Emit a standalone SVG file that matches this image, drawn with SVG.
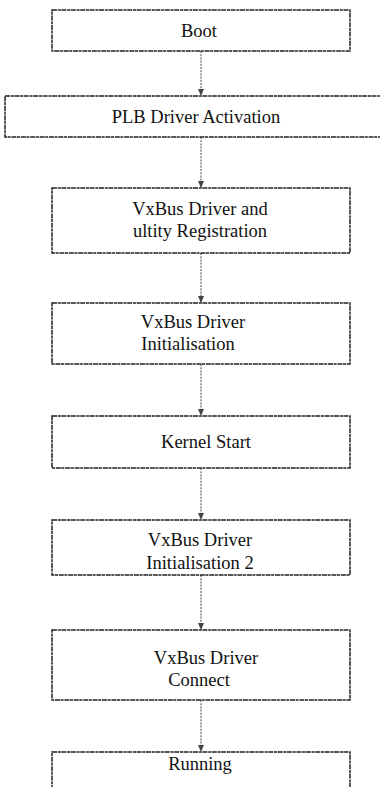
<svg xmlns="http://www.w3.org/2000/svg" width="380" height="787" viewBox="0 0 380 787">
<defs>
<style>
.box{fill:none;stroke:#222;stroke-width:1.5;stroke-dasharray:5 0.8 3 0.6}
.lbl{font-family:'Liberation Serif','Times New Roman',serif;font-size:18.5px;fill:#111;text-anchor:middle}
.con{fill:none;stroke:#555;stroke-width:1.1;stroke-dasharray:2 1.2}
</style>
<marker id="ah" viewBox="0 0 8 8" refX="7" refY="4" markerWidth="7" markerHeight="7" orient="auto" markerUnits="userSpaceOnUse">
<path d="M0,0.5 L8,4 L0,7.5 Z" fill="#444"/>
</marker>
</defs>
<rect width="380" height="787" fill="#fff"/>
<g id="connectors">
<path class="con" d="M201,51 V95" marker-end="url(#ah)"/>
<path class="con" d="M201,137 V187" marker-end="url(#ah)"/>
<path class="con" d="M201,253 V302" marker-end="url(#ah)"/>
<path class="con" d="M201,364 V415" marker-end="url(#ah)"/>
<path class="con" d="M201,468 V519" marker-end="url(#ah)"/>
<path class="con" d="M201,575 V629" marker-end="url(#ah)"/>
<path class="con" d="M201,700 V751" marker-end="url(#ah)"/>
</g>
<g id="boot">
<rect class="box" x="52" y="10" width="298" height="41"/>
<text class="lbl" x="199" y="37">Boot</text>
</g>
<g id="plb">
<rect class="box" x="5" y="96" width="380" height="41"/>
<text class="lbl" x="196" y="123">PLB Driver Activation</text>
</g>
<g id="vxreg">
<rect class="box" x="52" y="188" width="298" height="65"/>
<text class="lbl" x="200" y="215">VxBus Driver and</text>
<text class="lbl" x="200" y="237">ultity Registration</text>
</g>
<g id="vxinit">
<rect class="box" x="52" y="303" width="298" height="61"/>
<text class="lbl" x="193" y="328">VxBus Driver</text>
<text class="lbl" x="188" y="350">Initialisation</text>
</g>
<g id="kernel">
<rect class="box" x="52" y="416" width="298" height="52"/>
<text class="lbl" x="206" y="448">Kernel Start</text>
</g>
<g id="vxinit2">
<rect class="box" x="52" y="520" width="298" height="55"/>
<text class="lbl" x="200" y="546">VxBus Driver</text>
<text class="lbl" x="200" y="569">Initialisation 2</text>
</g>
<g id="vxconn">
<rect class="box" x="52" y="630" width="298" height="70"/>
<text class="lbl" x="206" y="664">VxBus Driver</text>
<text class="lbl" x="199" y="686">Connect</text>
</g>
<g id="running">
<rect class="box" x="52" y="752" width="298" height="50"/>
<text class="lbl" x="200" y="770">Running</text>
</g>
</svg>
